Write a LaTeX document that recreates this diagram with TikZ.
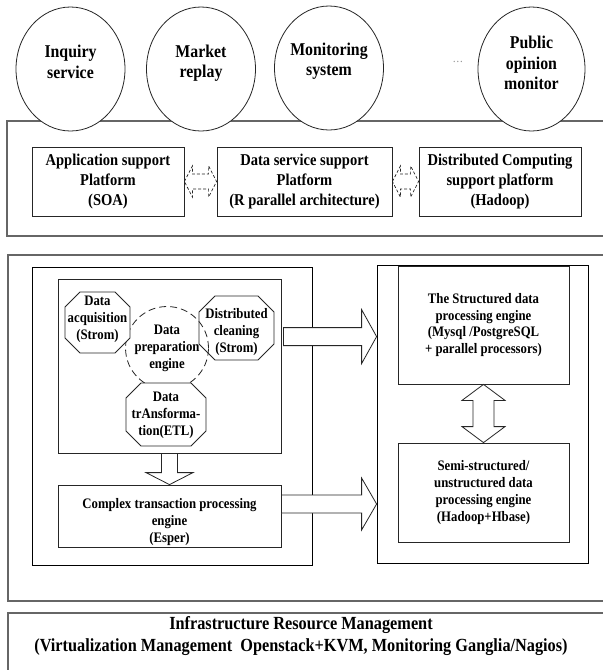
\documentclass[tikz,border=0pt]{standalone}
\usepackage{fontspec}
\setmainfont{Liberation Serif}[FakeStretch=0.88]
\usetikzlibrary{calc,shapes.geometric}

% octagon drawn around a centre: cx, cy, half width, half height, corner cut
\newcommand\octagonat[5]{%
  \filldraw[octline] ({#1-#3},{#2-#4+#5}) -- ({#1-#3+#5},{#2-#4}) -- ({#1+#3-#5},{#2-#4})
    -- ({#1+#3},{#2-#4+#5}) -- ({#1+#3},{#2+#4-#5}) -- ({#1+#3-#5},{#2+#4})
    -- ({#1-#3+#5},{#2+#4}) -- ({#1-#3},{#2+#4-#5}) -- cycle;}

% horizontal double block arrow between two points: left tip, right tip, head length, half head, half shaft
\newcommand\hdouble[6]{%
  \draw[#6] (#1) -- ($(#1)+(#3,-#4)$) -- ($(#1)+(#3,-#5)$) -- ($(#2)+(-#3,-#5)$)
    -- ($(#2)+(-#3,-#4)$) -- (#2) -- ($(#2)+(-#3,#4)$) -- ($(#2)+(-#3,#5)$)
    -- ($(#1)+(#3,#5)$) -- ($(#1)+(#3,#4)$) -- cycle;}

% vertical double block arrow: top tip, bottom tip, head length, half head, half shaft
\newcommand\vdouble[6]{%
  \draw[#6] (#1) -- ($(#1)+(#4,#3)$) -- ($(#1)+(#5,#3)$) -- ($(#2)+(#5,-#3)$)
    -- ($(#2)+(#4,-#3)$) -- (#2) -- ($(#2)+(-#4,-#3)$) -- ($(#2)+(-#5,-#3)$)
    -- ($(#1)+(-#5,#3)$) -- ($(#1)+(-#4,#3)$) -- cycle;}

\begin{document}
\begin{tikzpicture}[x=1pt,y=-1pt,
  outerframe/.style={draw=black!60, line width=1.3pt},
  frame/.style={draw=black, line width=0.8pt, inner sep=0pt},
  box/.style={draw=black!85, line width=0.8pt, fill=white, inner sep=0pt, align=center},
  octline/.style={draw=black!85, line width=0.8pt, fill=white},
  svc/.style={ellipse, draw=black!85, line width=0.8pt, fill=white,
    minimum width=109pt, minimum height=124pt, inner sep=0pt},
  svctext/.style={align=center, inner sep=0pt, font=\fontsize{18}{20.5}\selectfont\bfseries},
  toptext/.style={font=\fontsize{16.5}{20}\selectfont\bfseries},
  midtext/.style={font=\fontsize{14.5}{17}\selectfont\bfseries},
  plaintext/.style={align=center, inner sep=0pt},
  blockarrow/.style={draw=black!85, line width=0.8pt, fill=white, line join=miter},
  dasharrow/.style={draw=black!85, line width=0.7pt, dash pattern=on 3pt off 2pt},
]
\useasboundingbox (0,0) rectangle (603,670);
\fill[white] (0,0) rectangle (603,670);

% ---------- application layer ----------
\draw[outerframe] (7,121) rectangle (615,236);

\node[svc] (inq) at (70.5,69) {};
\node[svc] (mkt) at (201,69) {};
\node[svc] (mon) at (329,68) {};
\node[svc, minimum width=107pt] (pub) at (531.5,69) {};
\node[svctext] (inqT) at ($(inq.center)+(0,-7)$) {Inquiry\\service};
\node[svctext] (mktT) at ($(mkt.center)+(0,-6)$) {Market\\replay};
\node[svctext] (monT) at ($(mon.center)+(0,-7)$) {Monitoring\\system};
\node[svctext] (pubT) at ($(pub.center)+(0,-6)$) {Public\\opinion\\monitor};
\node[plaintext, text=black!45, font=\fontsize{12}{14}\selectfont] (more) at (458,62) {\ldots};

\node[box, toptext, minimum width=152pt, minimum height=69pt] (app) at (108,181.5)
  {Application support\\Platform\\(SOA)};
\node[box, toptext, minimum width=175pt, minimum height=69pt] (dss) at (304.5,181.5)
  {Data service support\\Platform\\(R parallel architecture)};
\node[box, toptext, minimum width=162pt, minimum height=69pt] (dcp) at (500,181.5)
  {Distributed Computing\\support platform\\(Hadoop)};

\hdouble{app.east}{dss.west}{8}{15.5}{7.5}{dasharrow}
\hdouble{dss.east}{dcp.west}{8}{15.5}{7.5}{dasharrow}

% ---------- data processing layer ----------
\draw[outerframe] (8,255) rectangle (615,601);

\node[frame, minimum width=280pt, minimum height=298pt] (lbig) at (172,416) {};
\node[frame, minimum width=211pt, minimum height=298pt] (rbig) at (482.5,414) {};

\node[box, minimum width=223pt, minimum height=174pt] (prep) at (169.5,366) {};
\node[box, midtext, minimum width=223pt, minimum height=62pt] (cplx) at (169.5,516) {};
\node[plaintext, midtext] (cplxT) at ($(cplx.center)+(0,6)$)
  {Complex transaction processing\\engine\\(Esper)};

% distributed cleaning sits under the dashed ring
\octagonat{236.5}{328}{37.5}{32}{16}
\node[plaintext, midtext] (clean) at (236.5,332) {Distributed\\cleaning\\(Strom)};

\node[circle, draw=black!85, line width=0.8pt, dash pattern=on 7pt off 4pt,
  minimum size=83pt, inner sep=0pt, align=center, midtext] (engine) at (167,348)
  {Data\\preparation\\engine};

\octagonat{97.5}{322.5}{32.5}{30.5}{15}
\node[plaintext, midtext] (acq) at (97.5,319.5) {Data\\acquisition\\(Strom)};

\octagonat{166}{414.5}{40}{31.5}{15}
\node[plaintext, midtext] (etl) at (166,415.5) {Data\\trAnsforma-\\tion(ETL)};

% flow arrows
\coordinate (ua) at ($(prep.north east)+(2,58)$);
\coordinate (ub) at (rbig.west |- ua);
\draw[blockarrow] ($(ua)+(0,-9)$) -- ($(ub)+(-15,-9)$) -- ($(ub)+(-15,-27)$) -- (ub)
  -- ($(ub)+(-15,27)$) -- ($(ub)+(-15,9)$) -- ($(ua)+(0,9)$) -- cycle;

\coordinate (la) at ($(cplx.east)+(0,-12)$);
\coordinate (lb) at (rbig.west |- la);
\draw[blockarrow] ($(la)+(0,-9)$) -- ($(lb)+(-15,-9)$) -- ($(lb)+(-15,-26)$) -- (lb)
  -- ($(lb)+(-15,26)$) -- ($(lb)+(-15,9)$) -- ($(la)+(0,9)$) -- cycle;

\draw[blockarrow] ($(prep.south)+(-8,0)$) -- ($(cplx.north)+(-8,-12)$)
  -- ($(cplx.north)+(-23.5,-12)$) -- (cplx.north) -- ($(cplx.north)+(23.5,-12)$)
  -- ($(cplx.north)+(8,-12)$) -- ($(prep.south)+(8,0)$) -- cycle;

\node[box, midtext, font=\fontsize{14.5}{16.5}\selectfont\bfseries,
  minimum width=171pt, minimum height=118pt] (sql) at (483.5,325)
  {The Structured data\\processing engine\\(Mysql /PostgreSQL\\+ parallel processors)};
\node[box, midtext, font=\fontsize{14.5}{17}\selectfont\bfseries,
  minimum width=171pt, minimum height=99pt] (semi) at (483.5,492.5)
  {Semi-structured/\\unstructured data\\processing engine\\(Hadoop+Hbase)};

\vdouble{sql.south}{semi.north}{16}{21.5}{10.5}{blockarrow}

% ---------- infrastructure layer ----------
\draw[outerframe] (8,613) rectangle (615,690);
\node[plaintext, font=\fontsize{18.5}{22}\selectfont\bfseries] (infra) at (301,636)
  {Infrastructure Resource Management\\(Virtualization Management\ \ Openstack+KVM, Monitoring Ganglia/Nagios)};
\end{tikzpicture}
\end{document}
